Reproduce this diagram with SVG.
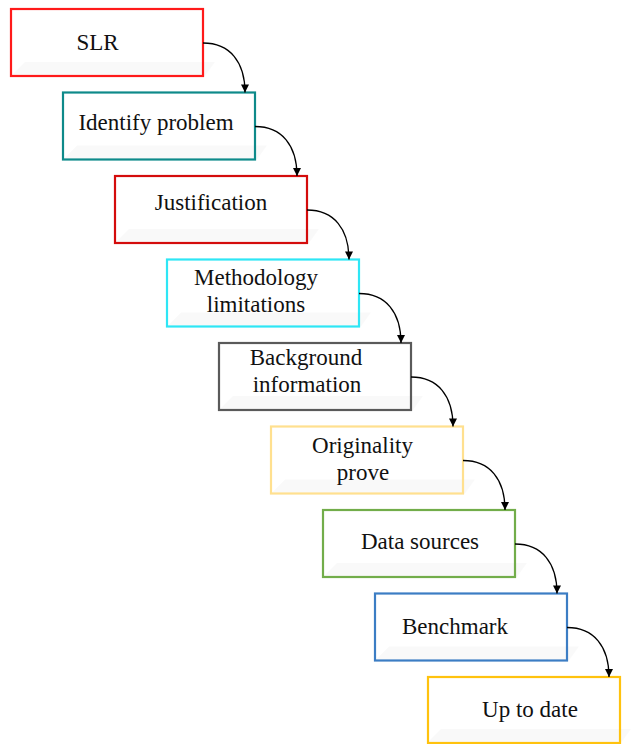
<svg xmlns="http://www.w3.org/2000/svg" width="636" height="744" viewBox="0 0 636 744">
  <style>
    .box { fill: none; stroke-width: 2.2; }
    .bg { fill: #ffffff; }
    .slab { fill: #000000; opacity: 0.025; }
    .lbl { font-family: "Liberation Serif", "Times New Roman", serif; font-size: 23px; fill: #111111; text-anchor: middle; }
    .conn { fill: none; stroke: #000000; stroke-width: 1.3; marker-end: url(#arrow); }
  </style>
  <defs>
    <marker id="arrow" viewBox="0 0 10 10" refX="10" refY="5" markerWidth="11" markerHeight="8" markerUnits="userSpaceOnUse" orient="auto">
      <path d="M0,0 L10,5 L0,10 z" fill="#000000"/>
    </marker>
  </defs>

  <rect width="636" height="744" fill="#ffffff"/>

  <g id="step-slr">
    <rect class="bg" x="11" y="9" width="192" height="67"/>
    <polygon class="slab" points="25,62 215,62 205,76 11,76"/>
    <rect class="box" x="11" y="9" width="192" height="67" stroke="#ff1a1a"/>
    <text class="lbl" x="97.5" y="50">SLR</text>
  </g>

  <g id="step-identify">
    <rect class="bg" x="63" y="92.5" width="192" height="67"/>
    <polygon class="slab" points="77,145.5 267,145.5 257,159.5 63,159.5"/>
    <rect class="box" x="63" y="92.5" width="192" height="67" stroke="#0e8a8a"/>
    <text class="lbl" x="156" y="130">Identify problem</text>
  </g>

  <g id="step-justification">
    <rect class="bg" x="115" y="176" width="192" height="67"/>
    <polygon class="slab" points="129,229 319,229 309,243 115,243"/>
    <rect class="box" x="115" y="176" width="192" height="67" stroke="#d40c0c"/>
    <text class="lbl" x="211" y="210">Justification</text>
  </g>

  <g id="step-methodology">
    <rect class="bg" x="167" y="259.5" width="192" height="67"/>
    <polygon class="slab" points="181,312.5 371,312.5 361,326.5 167,326.5"/>
    <rect class="box" x="167" y="259.5" width="192" height="67" stroke="#2ee6f5"/>
    <text class="lbl" x="256" y="285">Methodology</text>
    <text class="lbl" x="256" y="312">limitations</text>
  </g>

  <g id="step-background">
    <rect class="bg" x="219" y="343" width="192" height="67"/>
    <polygon class="slab" points="233,396 423,396 413,410 219,410"/>
    <rect class="box" x="219" y="343" width="192" height="67" stroke="#5a5a5a"/>
    <text class="lbl" x="306" y="365">Background</text>
    <text class="lbl" x="307" y="392">information</text>
  </g>

  <g id="step-originality">
    <rect class="bg" x="271" y="426.5" width="192" height="67"/>
    <polygon class="slab" points="285,479.5 475,479.5 465,493.5 271,493.5"/>
    <rect class="box" x="271" y="426.5" width="192" height="67" stroke="#ffe08f"/>
    <text class="lbl" x="362.5" y="453">Originality</text>
    <text class="lbl" x="363" y="480">prove</text>
  </g>

  <g id="step-data">
    <rect class="bg" x="323" y="510" width="192" height="67"/>
    <polygon class="slab" points="337,563 527,563 517,577 323,577"/>
    <rect class="box" x="323" y="510" width="192" height="67" stroke="#72ad4a"/>
    <text class="lbl" x="420" y="549">Data sources</text>
  </g>

  <g id="step-benchmark">
    <rect class="bg" x="375" y="593.5" width="192" height="67"/>
    <polygon class="slab" points="389,646.5 579,646.5 569,660.5 375,660.5"/>
    <rect class="box" x="375" y="593.5" width="192" height="67" stroke="#3c7dc4"/>
    <text class="lbl" x="455" y="634">Benchmark</text>
  </g>

  <g id="step-uptodate">
    <rect class="bg" x="427" y="677" width="192" height="66"/>
    <polygon class="slab" points="441,729 631,729 621,743 427,743"/>
    <rect class="box" x="428" y="677" width="192" height="66" stroke="#ffc20e"/>
    <text class="lbl" x="530" y="717">Up to date</text>
  </g>

  <g id="connectors">
    <path class="conn" d="M203,43 C230,43 245,62 245,92.5"/>
    <path class="conn" d="M255,126.5 C282,126.5 297,145.5 297,176"/>
    <path class="conn" d="M307,210 C334,210 349,229 349,259.5"/>
    <path class="conn" d="M359,293.5 C386,293.5 401,312.5 401,343"/>
    <path class="conn" d="M411,377 C438,377 453,396 453,426.5"/>
    <path class="conn" d="M463,460.5 C490,460.5 505,479.5 505,510"/>
    <path class="conn" d="M515,544 C542,544 557,563 557,593.5"/>
    <path class="conn" d="M567,627.5 C594,627.5 609,646.5 609,677"/>
  </g>
</svg>
